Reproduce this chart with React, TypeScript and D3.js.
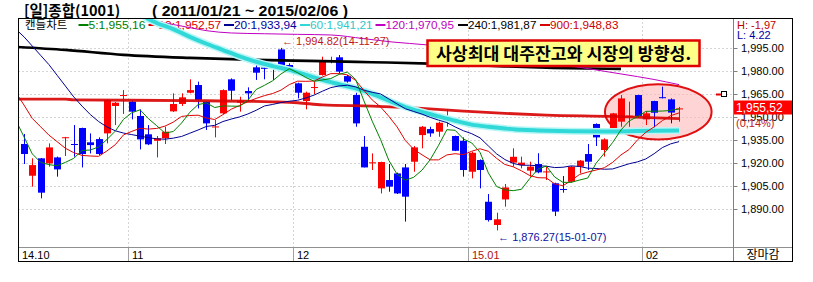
import React from "react";
import * as d3 from "d3";

// ---------- DATA ----------
const opens = [
  1932.4, 1911.8, 1923.1, 1919.8, 1923.7, 1936.5, 1932.4, 1942.8, 1933.5, 1935.6,
  1939.3, 1957.1, 1963.9, 1959.9, 1950.6, 1938.7, 1934.5, 1936.1, 1953.6, 1958.4,
  1965.7, 1970.7, 1959.9, 1943.4, 1952.3, 1974.4, 1959.2, 1966.8, 1982.2, 1982.0,
  1982.2, 1993.8, 1983.7, 1971.8, 1960.3, 1969.1, 1977.2, 1986.4, 1988.7, 1976.5,
  1964.2, 1930.6, 1920.1, 1903.6, 1909.0, 1913.3, 1917.2, 1920.9, 1938.2, 1942.1,
  1940.4, 1949.0, 1937.6, 1934.5, 1914.4, 1922.0, 1894.9, 1879.8, 1896.4, 1920.3,
  1918.7, 1915.1, 1919.4, 1914.2, 1906.9, 1903.2, 1907.9, 1917.7, 1925.9, 1945.4,
  1928.5, 1941.9, 1946.9, 1950.5, 1964.2, 1948.4, 1960.3, 1962.8, 1961.4, 1954.9,
];
const highs = [
  1938.9, 1923.1, 1923.3, 1932.8, 1924.2, 1937.0, 1944.7, 1943.0, 1939.3, 1936.7,
  1961.4, 1959.7, 1967.4, 1960.5, 1954.9, 1944.7, 1937.6, 1943.6, 1965.3, 1965.3,
  1974.4, 1972.9, 1960.3, 1948.0, 1967.9, 1975.0, 1963.1, 1969.2, 1984.8, 1982.2,
  1984.8, 1994.82, 1984.8, 1972.2, 1966.4, 1972.9, 1989.1, 1989.1, 1990.2, 1977.2,
  1965.7, 1937.6, 1926.3, 1920.9, 1919.4, 1913.8, 1919.4, 1931.1, 1944.1, 1943.6,
  1946.9, 1954.9, 1937.8, 1936.7, 1927.4, 1922.4, 1899.9, 1887.8, 1906.4, 1929.6,
  1924.2, 1920.9, 1926.4, 1917.7, 1907.3, 1911.6, 1918.1, 1922.0, 1932.4, 1945.8,
  1936.1, 1952.6, 1964.2, 1959.9, 1964.4, 1953.4, 1960.5, 1969.6, 1962.0, 1956.5,
];
const lows = [
  1919.4, 1904.7, 1897.1, 1917.7, 1911.2, 1924.6, 1924.2, 1917.2, 1926.3, 1925.2,
  1932.8, 1944.7, 1951.9, 1948.4, 1928.9, 1931.7, 1923.7, 1932.4, 1953.2, 1957.1,
  1965.3, 1955.5, 1941.5, 1936.7, 1951.9, 1961.0, 1953.4, 1959.9, 1974.0, 1974.4,
  1974.0, 1980.5, 1979.5, 1962.0, 1954.9, 1964.8, 1976.8, 1984.8, 1978.3, 1970.7,
  1943.6, 1917.2, 1915.5, 1900.3, 1901.4, 1899.9, 1882.0, 1914.4, 1929.6, 1937.1,
  1937.1, 1943.6, 1927.8, 1911.2, 1910.1, 1903.6, 1882.0, 1876.27, 1891.7, 1917.7,
  1916.6, 1911.2, 1913.4, 1909.0, 1885.6, 1900.8, 1907.3, 1913.3, 1915.5, 1931.1,
  1924.2, 1941.5, 1943.6, 1943.6, 1949.7, 1944.7, 1941.9, 1962.0, 1945.8, 1946.9,
];
const closes = [
  1925.9, 1918.7, 1900.8, 1930.2, 1915.9, 1936.8, 1932.0, 1925.9, 1931.7, 1925.9,
  1961.0, 1959.2, 1964.2, 1953.4, 1935.4, 1932.2, 1936.1, 1940.4, 1958.4, 1962.7,
  1967.4, 1961.0, 1945.8, 1943.8, 1967.4, 1967.0, 1960.5, 1965.3, 1978.7, 1981.2,
  1981.6, 1982.6, 1982.2, 1965.7, 1965.7, 1969.4, 1986.9, 1986.7, 1979.4, 1972.9,
  1945.8, 1917.2, 1920.5, 1920.7, 1904.7, 1900.3, 1898.2, 1930.2, 1943.6, 1939.3,
  1946.2, 1949.3, 1928.0, 1915.5, 1926.7, 1915.5, 1883.0, 1883.5, 1904.2, 1924.1,
  1920.3, 1917.7, 1914.0, 1914.6, 1888.5, 1902.8, 1917.7, 1921.6, 1920.9, 1936.7,
  1935.4, 1952.3, 1962.0, 1950.8, 1950.6, 1952.3, 1952.7, 1962.5, 1952.8, 1955.52,
];

// moving averages, one value per candle starting one candle before the first
const ma5 = [
  1948, 1937, 1926, 1920.5, 1919, 1918.3, 1920.5, 1923.1, 1928.2, 1928.5, 1930.5,
  1935.3, 1940.7, 1948.4, 1952.7, 1954.6, 1948.9, 1944.3, 1939.5, 1940.5, 1946.0,
  1953.0, 1958.0, 1959.1, 1956.1, 1957.1, 1957.0, 1956.9, 1960.8, 1967.8, 1970.5,
  1973.5, 1977.9, 1981.3, 1978.7, 1975.6, 1973.1, 1974.0, 1974.9, 1977.6, 1979.1,
  1974.3, 1960.4, 1947.2, 1935.4, 1921.8, 1912.7, 1908.9, 1910.8, 1915.4, 1922.3,
  1931.5, 1941.7, 1941.3, 1935.7, 1933.1, 1927.0, 1913.7, 1904.8, 1902.6, 1902.1,
  1903.0, 1910.0, 1916.1, 1918.1, 1911.0, 1907.5, 1907.5, 1909.0, 1910.3, 1919.9,
  1926.5, 1933.4, 1941.5, 1947.4, 1950.2, 1953.6, 1953.7, 1953.8, 1954.2, 1955.16,
];
const ma10 = [
  1966, 1957.7, 1949, 1943.6, 1938.2, 1933.9, 1929.6, 1926.8, 1925.0, 1924.6, 1924.4,
  1927.9, 1931.9, 1938.3, 1940.6, 1942.6, 1942.1, 1942.5, 1944.0, 1946.6, 1950.3,
  1950.9, 1951.1, 1949.3, 1948.3, 1951.5, 1955.0, 1957.4, 1959.9, 1962.0, 1963.8,
  1965.2, 1967.4, 1971.0, 1973.2, 1973.1, 1973.3, 1975.9, 1978.1, 1978.1, 1977.3,
  1973.7, 1967.2, 1961.0, 1956.5, 1950.4, 1943.5, 1934.6, 1929.0, 1925.4, 1922.1,
  1922.1, 1925.3, 1926.1, 1925.5, 1927.7, 1929.3, 1927.7, 1923.1, 1919.1, 1917.6,
  1915.0, 1911.9, 1910.5, 1910.4, 1906.5, 1905.3, 1908.7, 1912.6, 1914.2, 1915.5,
  1917.0, 1920.5, 1925.3, 1928.9, 1935.1, 1940.0, 1943.5, 1947.6, 1950.8, 1952.57,
];
const ma20 = [
  2007, 2002, 1996, 1990, 1984, 1977, 1970, 1963, 1957, 1951.5, 1947,
  1943.5, 1941, 1939.5, 1938.5, 1937.5, 1936.5, 1935.8, 1935.5, 1936.2, 1937.3,
  1939.4, 1941.5, 1943.8, 1944.5, 1947.0, 1948.6, 1950.0, 1951.9, 1954.3, 1957.1,
  1958.1, 1959.3, 1960.2, 1960.8, 1962.3, 1964.2, 1966.7, 1969.0, 1970.1, 1970.6,
  1969.5, 1967.3, 1966.0, 1964.9, 1961.7, 1958.4, 1955.3, 1953.5, 1951.8, 1949.7,
  1947.9, 1946.3, 1943.5, 1941.0, 1939.1, 1936.4, 1931.2, 1926.0, 1922.3, 1919.8,
  1918.6, 1918.6, 1918.3, 1918.0, 1917.1, 1917.3, 1918.2, 1917.8, 1916.7, 1916.5,
  1916.0, 1916.2, 1917.9, 1919.6, 1920.8, 1922.7, 1926.1, 1930.1, 1932.5, 1933.94,
];
// long averages read at a few candles: [candle index, value]
const ma60: [number, number][] = [
  [13.5, 2019], [15, 2013.5], [16, 2011], [18, 2007], [20, 2002], [22, 1997.5],
  [24, 1993.4], [26, 1989.3], [28, 1985.8], [30, 1983], [32, 1980.5], [34, 1977.3],
  [36, 1974], [38, 1971.2], [40, 1968.5], [42, 1965], [44, 1960.5], [46, 1956.4],
  [48, 1953.2], [50, 1950.3], [52, 1947.5], [54, 1945], [56, 1943.6], [58, 1942.5],
  [60, 1941.6], [62, 1941.2], [66, 1940.7], [70, 1940.5], [74, 1940.8], [79, 1941.21],
];
const ma120: [number, number][] = [
  [14, 2014.5], [16, 2012], [18, 2010], [20, 2008], [22, 2006], [25, 2004.5],
  [29, 2004], [33, 2003.6], [37, 2003.2], [41, 2000.8], [44.5, 1998.6], [48.5, 1996.8],
  [60, 1987.8], [67.5, 1981.8], [72, 1977.9], [76, 1974.3], [79, 1970.95],
];
const ma240: [number, number][] = [
  [-1, 1995.5], [5, 1993.5], [12, 1990.3], [20, 1988.3], [28, 1987], [36, 1986.2],
  [42, 1985.5], [49, 1984.6], [56, 1983.2], [63, 1981.9], [72, 1981.2],
];
const ma900: [number, number][] = [
  [-1, 1961.6], [5, 1961.6], [6, 1961.0], [20, 1960.6], [30, 1959.8], [33, 1959.2],
  [36, 1957.8], [42, 1957.0], [48, 1955.5], [53, 1953.8], [58, 1952.3], [63, 1951.2],
  [71, 1950.3], [79, 1948.83],
];

const yTicks = [1890, 1905, 1920, 1935, 1950, 1965, 1980, 1995];
const monthLabels = ["14.10", "11", "12", "15.01", "02"];
const monthStarts = [0, 13, 33, 54, 75];
const legendNames = ["5", "10", "20", "60", "120", "240", "900"];
const legendValues = ["1,955,16", "1,952,57", "1,933,94", "1,941,21", "1,970,95", "1,981,87", "1,948,83"];
const markerLevel = 1965;
const lastPriceText = "1,955,52";
const lastChangeText = "(0,14%)";
const highNote = "← 1,994.82(14-11-27)";
const lowNote = "← 1,876.27(15-01-07)";
const titleText = "[일]종합(1001)";
const periodText = "( 2011/01/21 ~ 2015/02/06 )";
const boxText = "사상최대 대주잔고와 시장의 방향성.";
const hText = "H: -1,97";
const lText = "L: 4.22";

// ---------- CHART ----------
const SANS = "'Liberation Sans', Arial, 'Noto Sans CJK KR', sans-serif";
const KR = "'Noto Sans CJK KR', 'Liberation Sans', sans-serif";

export default function App() {
  const L = 18.5, T = 18.5, R = 733.5, B = 247.5, OR = 792.5, OB = 261.5;
  const x = d3.scaleLinear().domain([0, 79]).range([24, 679]);
  const y = d3.scaleLinear().domain([1890, 1980]).range([209.3, 70.7]);
  const step = x(1) - x(0);

  const fullLine = d3
    .line<number>()
    .x((_, k) => x(k - 1))
    .y((v) => y(v));
  const sparseLine = d3
    .line<[number, number]>()
    .x((d) => x(d[0]))
    .y((d) => y(d[1]))
    .curve(d3.curveMonotoneX);

  const maColors = ["#008000", "#e00000", "#000090", "#30d8d8", "#c000c0", "#000000", "#d80000"];
  const legendTextColors = ["#008000", "#e00000", "#0000a0", "#30c8c8", "#c000c0", "#000000", "#d00000"];
  const legendX = [78.5, 148.5, 224, 300, 375.5, 458, 540];

  const hiIdx = d3.maxIndex(highs);
  const loIdx = d3.minIndex(lows);
  const last = closes[closes.length - 1];

  const ellCx = x(76.5);
  const ellCy = y(1953.3);
  const ellRx = x(6.43) - x(0);
  const ellRy = y(1953.3 - 17.9) - ellCy;

  const fmt = d3.format(",.2f");

  return (
    <svg
      width={813}
      height={282}
      style={{ position: "absolute", left: 0, top: 0, background: "#fff" }}
    >
      <defs>
        <clipPath id="plotClip">
          <rect x={L} y={T} width={R - L} height={B - T} />
        </clipPath>
      </defs>
      <rect x={0} y={0} width={813} height={282} fill="#fff" />

      {/* title */}
      <text x={24} y={16} fontFamily={KR} fontSize={14.5} fontWeight="bold" fill="#000">
        {titleText}
      </text>
      <text
        x={152}
        y={16}
        fontFamily={SANS}
        fontSize={14.5}
        fontWeight="bold"
        fill="#000"
        textLength={196}
        lengthAdjust="spacingAndGlyphs"
      >
        {periodText}
      </text>

      {/* grid */}
      <g clipPath="url(#plotClip)">
        {yTicks.map((t) => (
          <line
            key={t}
            x1={L}
            x2={R}
            y1={Math.round(y(t)) + 0.5}
            y2={Math.round(y(t)) + 0.5}
            stroke="#a8a8a8"
            strokeDasharray="1,3"
          />
        ))}
        {monthStarts.slice(1).map((m) => (
          <line
            key={m}
            x1={Math.round(x(m) - step / 2) + 0.5}
            x2={Math.round(x(m) - step / 2) + 0.5}
            y1={T}
            y2={B}
            stroke="#a8a8a8"
            strokeDasharray="1,3"
          />
        ))}
      </g>

      {/* legend */}
      <text x={25} y={29} fontFamily={KR} fontSize={11.5} fill="#000">
        캔들차트
      </text>
      {legendNames.map((n, k) => {
        const txt = `${n}:${legendValues[k]}`;
        return (
          <g key={n}>
            <line
              x1={legendX[k]}
              x2={legendX[k] + 10}
              y1={25}
              y2={25}
              stroke={maColors[k]}
              strokeWidth={2}
            />
            <text
              x={legendX[k] + 10}
              y={29}
              fontFamily={SANS}
              fontSize={11}
              fill={legendTextColors[k]}
              textLength={txt.length * 5.7}
              lengthAdjust="spacingAndGlyphs"
            >
              {txt}
            </text>
          </g>
        );
      })}

      <g clipPath="url(#plotClip)">
        {/* highlight ellipse */}
        <ellipse
          cx={ellCx}
          cy={ellCy}
          rx={ellRx}
          ry={ellRy}
          fill="#ffb8b8"
          fillOpacity={0.6}
          stroke="#e01010"
          strokeWidth={2}
        />

        {/* candles */}
        {closes.map((c, i) => {
          const o = opens[i];
          const up = c >= o;
          const color = up ? "#ff0000" : "#0000ff";
          const cx = Math.round(x(i)) + 0.5;
          const yTop = y(Math.max(o, c));
          const yBot = y(Math.min(o, c));
          const bh = Math.max(1, yBot - yTop);
          return (
            <g key={i}>
              <line x1={cx} x2={cx} y1={y(highs[i])} y2={y(lows[i])} stroke={color} strokeWidth={1} />
              <rect x={cx - 3.5} y={yTop} width={7} height={bh} fill={color} />
            </g>
          );
        })}

        {/* moving averages */}
        <path d={sparseLine(ma900) || ""} fill="none" stroke={maColors[6]} strokeWidth={2.8} strokeOpacity={0.9} />
        <path d={sparseLine(ma240) || ""} fill="none" stroke={maColors[5]} strokeWidth={2.6} />
        <path d={sparseLine(ma120) || ""} fill="none" stroke={maColors[4]} strokeWidth={1} />
        <path d={sparseLine(ma60) || ""} fill="none" stroke="#b8f6f6" strokeWidth={7} />
        <path d={sparseLine(ma60) || ""} fill="none" stroke={maColors[3]} strokeWidth={4} />
        <path d={fullLine(ma20) || ""} fill="none" stroke={maColors[2]} strokeWidth={1} />
        <path d={fullLine(ma10) || ""} fill="none" stroke={maColors[1]} strokeWidth={1} />
        <path d={fullLine(ma5) || ""} fill="none" stroke={maColors[0]} strokeWidth={1} />

        {/* level marker */}
        <line x1={716} x2={722} y1={Math.round(y(markerLevel)) + 0.5} y2={Math.round(y(markerLevel)) + 0.5} stroke="#e00000" strokeWidth={2} />
        <rect x={721.5} y={Math.round(y(markerLevel)) - 2.5} width={5} height={5} fill="#fff" stroke="#000" strokeWidth={1} />
      </g>

      {/* annotations */}
      <text x={x(hiIdx) + 1} y={y(highs[hiIdx]) - 2.5} fontFamily={SANS} fontSize={11} fill="#c01818">
        {highNote}
      </text>
      <text x={x(loIdx) + 1.5} y={y(lows[loIdx]) + 11} fontFamily={SANS} fontSize={11} fill="#1010a0">
        {lowNote}
      </text>

      {/* yellow note box */}
      <rect x={427.5} y={40.5} width={272} height={25.5} fill="#ffff88" stroke="#e00000" strokeWidth={2.5} />
      <text
        x={563.5}
        y={59.5}
        textAnchor="middle"
        fontFamily={KR}
        fontSize={16.5}
        fontWeight="bold"
        fill="#000"
        textLength={255}
        lengthAdjust="spacingAndGlyphs"
      >
        {boxText}
      </text>

      {/* right axis */}
      {yTicks.map((t) => (
        <g key={t}>
          <line x1={R} x2={R + 4} y1={Math.round(y(t)) + 0.5} y2={Math.round(y(t)) + 0.5} stroke="#808080" />
          <text x={741} y={y(t) + 4} fontFamily={SANS} fontSize={11} fill="#000">
            {fmt(t)}
          </text>
        </g>
      ))}
      <text x={737} y={29} fontFamily={SANS} fontSize={11} fill="#c00000">
        {hText}
      </text>
      <text x={737} y={39} fontFamily={SANS} fontSize={11} fill="#0000a0">
        {lText}
      </text>
      <rect x={R} y={Math.round(y(last)) - 7.5} width={OR - R} height={14} fill="#ff0000" />
      <text x={736} y={Math.round(y(last)) + 4} fontFamily={SANS} fontSize={12} fill="#fff">
        {lastPriceText}
      </text>
      <text x={736} y={Math.round(y(last)) + 19} fontFamily={SANS} fontSize={11} fill="#c02020">
        {lastChangeText}
      </text>

      {/* bottom axis */}
      <line x1={L} x2={OR} y1={B} y2={B} stroke="#909090" />
      {monthStarts.map((m, k) => {
        const bx = k === 0 ? L : Math.round(x(m) - step / 2) + 0.5;
        return (
          <g key={m}>
            {k > 0 && <line x1={bx} x2={bx} y1={B} y2={OB} stroke="#a0a0a0" />}
            <text
              x={bx + 3.5}
              y={259}
              fontFamily={SANS}
              fontSize={11}
              fill={monthLabels[k] === "15.01" ? "#b01010" : "#000"}
            >
              {monthLabels[k]}
            </text>
          </g>
        );
      })}
      <text x={763} y={259} textAnchor="middle" fontFamily={KR} fontSize={12} fill="#000">
        장마감
      </text>

      {/* frame */}
      <line x1={R} x2={R} y1={T} y2={OB} stroke="#808080" />
      <rect x={L} y={T} width={OR - L} height={OB - T} fill="none" stroke="#000" strokeWidth={1} />
    </svg>
  );
}
